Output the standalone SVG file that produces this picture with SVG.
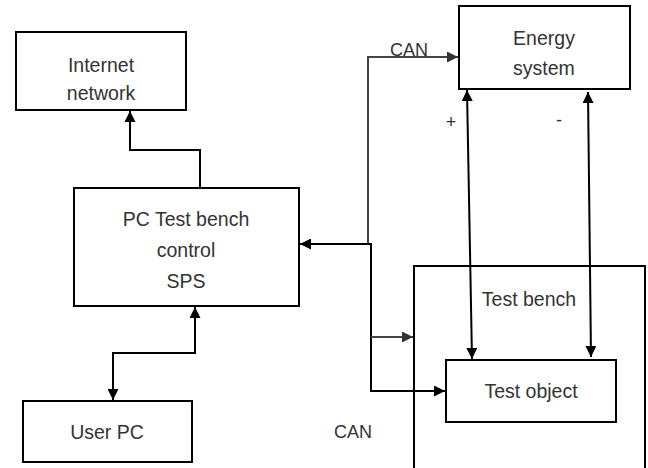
<svg xmlns="http://www.w3.org/2000/svg" width="648" height="468" viewBox="0 0 648 468">
<defs>
<marker id="ah" viewBox="0 0 10 10" refX="10" refY="5" markerWidth="12" markerHeight="11" markerUnits="userSpaceOnUse" orient="auto-start-reverse">
<path d="M0,0 L10,5 L0,10 z" fill="#000"/>
</marker>
<marker id="ahg" viewBox="0 0 10 10" refX="10" refY="5" markerWidth="12" markerHeight="11" markerUnits="userSpaceOnUse" orient="auto-start-reverse">
<path d="M0,0 L10,5 L0,10 z" fill="#333"/>
</marker>
</defs>
<style>
.box{fill:#fff;stroke:#000;stroke-width:2}
.t{font-family:"Liberation Sans",Arial,sans-serif;font-size:19.5px;fill:#333;text-anchor:middle}
.s{font-size:18px}
.w{fill:none;stroke:#000;stroke-width:2}
.g{fill:none;stroke:#444;stroke-width:2}
</style>
<rect width="648" height="468" fill="#fff"/>
<g id="internet">
<rect class="box" x="16" y="32" width="170" height="78"/>
<text class="t" x="101" y="72">Internet</text>
<text class="t" x="101" y="100">network</text>
</g>
<g id="pc">
<rect class="box" x="74" y="188" width="225" height="118"/>
<text class="t" x="186" y="226">PC Test bench</text>
<text class="t" x="186" y="257">control</text>
<text class="t" x="186" y="288">SPS</text>
</g>
<g id="userpc">
<rect class="box" x="23" y="401" width="169" height="61"/>
<text class="t" x="107" y="439">User PC</text>
</g>
<g id="energy">
<rect class="box" x="459" y="6" width="171" height="83"/>
<text class="t" x="544" y="45">Energy</text>
<text class="t" x="544" y="75">system</text>
</g>
<g id="testbench">
<rect class="box" x="414" y="266" width="231" height="210"/>
<text class="t" x="529" y="306">Test bench</text>
</g>
<g id="testobject">
<rect class="box" x="446" y="360" width="170" height="62"/>
<text class="t" x="531" y="398">Test object</text>
</g>
<g id="connectors">
<path class="w" d="M200,188 V150 H130 V111" marker-end="url(#ah)"/>
<path class="w" d="M195,307 V353 H113 V400" marker-start="url(#ah)" marker-end="url(#ah)"/>
<path class="g" d="M368,244 V57 H458" marker-end="url(#ahg)"/>
<path class="w" d="M371,244 H300" marker-end="url(#ah)"/>
<path class="w" d="M371,243 V391 H445" marker-end="url(#ah)"/>
<path class="g" d="M371,337 H413" marker-end="url(#ahg)"/>
<path class="w" d="M467,90 L472,359" marker-start="url(#ah)" marker-end="url(#ah)"/>
<path class="w" d="M588,92 L591,357" marker-start="url(#ah)" marker-end="url(#ah)"/>
</g>
<g id="labels">
<text class="t s" x="409" y="56">CAN</text>
<text class="t s" x="451" y="128">+</text>
<text class="t s" x="559" y="126">-</text>
<text class="t s" x="353" y="438">CAN</text>
</g>
</svg>
